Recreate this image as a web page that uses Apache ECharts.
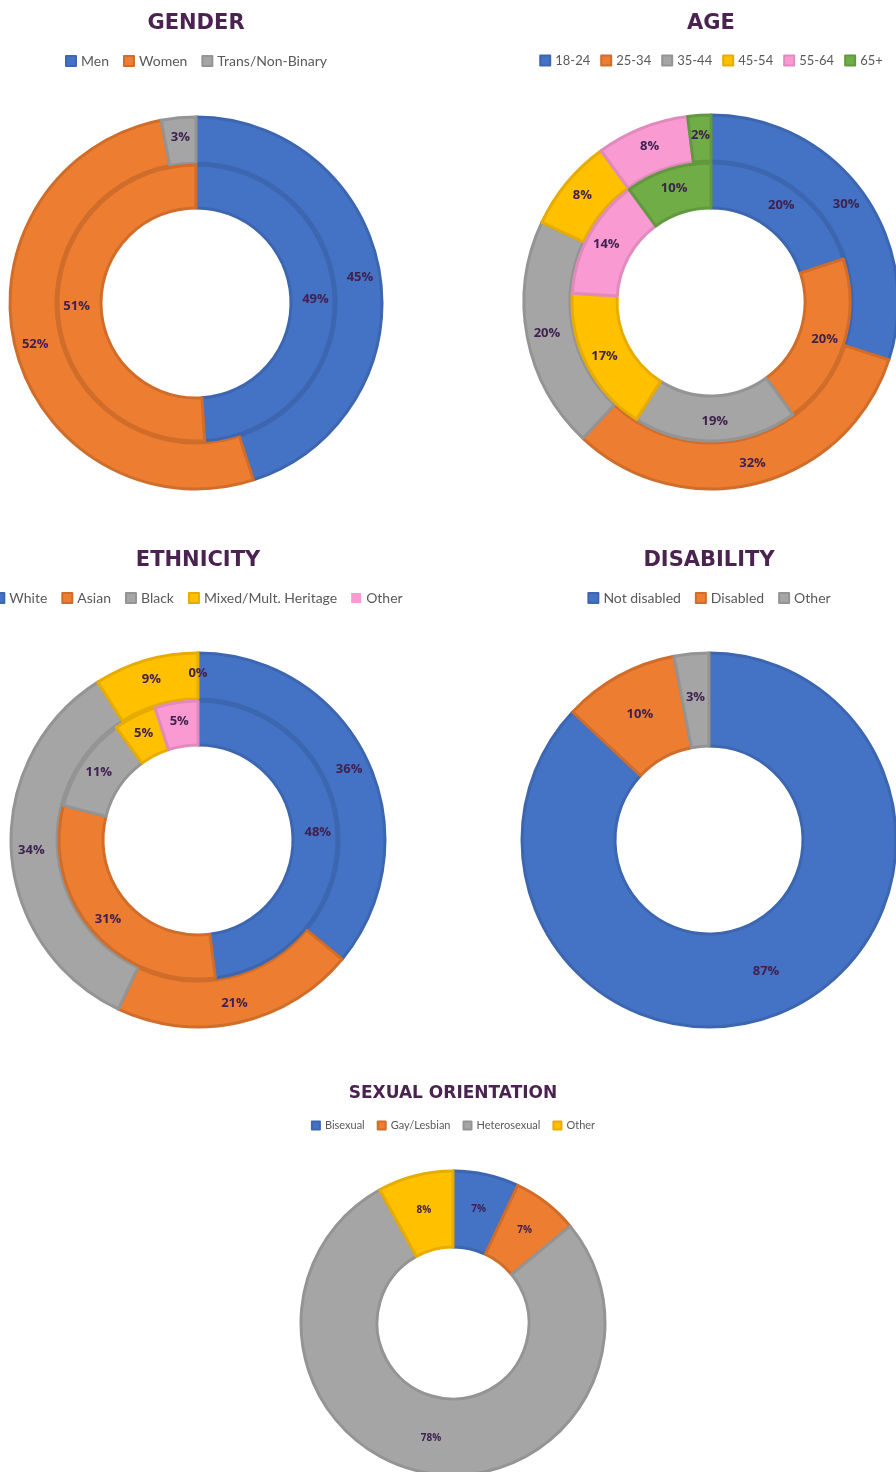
<!DOCTYPE html>
<html>
<head>
<meta charset="utf-8">
<script src="https://cdn.jsdelivr.net/npm/echarts@6/dist/echarts.min.js"></script>
<style>
  body { margin: 0; background: #fff; }
  #page { position: relative; width: 896px; height: 1472px; overflow: hidden; }
  .panel { position: absolute; width: 896px; }
</style>
</head>
<body>
<div id="page">
  <div class="panel" id="gender" style="left:-252px;top:0px;height:540px;"></div>
  <div class="panel" id="age" style="left:263px;top:0px;height:540px;"></div>
  <div class="panel" id="ethnicity" style="left:-250px;top:537px;height:538px;"></div>
  <div class="panel" id="disability" style="left:261px;top:537px;height:538px;"></div>
  <div class="panel" id="orientation" style="left:5px;top:1075px;height:397px;"></div>
</div>
<script>
// data
var genderCats = ['Men', 'Women', 'Trans/Non-Binary'];
var genderOuter = [45, 52, 3];
var genderInner = [49, 51];

var ageCats = ['18-24', '25-34', '35-44', '45-54', '55-64', '65+'];
var ageOuter = [30, 32, 20, 8, 8, 2];
var ageInner = [20, 20, 19, 17, 14, 10];

var ethCats = ['White', 'Asian', 'Black', 'Mixed/Mult. Heritage', 'Other'];
var ethOuter = [36, 21, 34, 9, 0];
var ethInner = [48, 31, 11, 5, 5];

var disCats = ['Not disabled', 'Disabled', 'Other'];
var disValues = [87, 10, 3];

var sexCats = ['Bisexual', 'Gay/Lesbian', 'Heterosexual', 'Other'];
var sexValues = [7, 7, 78, 8];

var fills = ['#4472c4', '#ed7d31', '#a5a5a5', '#ffc000', '#f99bd2', '#70ad47'];
var edges = ['#3d66b0', '#d06d2a', '#949494', '#e6ad00', '#e18bbd', '#62993e'];

var titleColor = '#4a2350';
var labelColor = '#3f2150';

function ring(cats, values, radius, cy, fontSize) {
    return {
        type: 'pie',
        radius: radius,
        center: ['50%', cy],
        startAngle: 90,
        clockwise: true,
        silent: true,
        avoidLabelOverlap: false,
        label: {
            show: true,
            position: 'inside',
            formatter: '{c}%',
            color: labelColor,
            fontFamily: 'Open Sans',
            fontWeight: 'bold',
            fontSize: fontSize
        },
        labelLine: { show: false },
        data: values.map(function (v, i) {
            return {
                name: cats[i],
                value: v,
                itemStyle: { color: fills[i], borderColor: edges[i], borderWidth: v > 0 ? 3 : 0 }
            };
        })
    };
}

function makeChart(id, title, cats, rings, cy, sizes) {
    var chart = echarts.init(document.getElementById(id), null);
    var option = {
        animation: false,
        color: fills,
        title: {
            text: title,
            left: 'center',
            top: sizes.titleTop,
            textStyle: {
                fontFamily: 'DejaVu Sans',
                fontWeight: 'bold',
                fontSize: sizes.title,
                color: titleColor
            }
        },
        legend: {
            top: sizes.legendTop,
            left: 'center',
            data: cats,
            itemWidth: sizes.icon,
            itemHeight: sizes.icon,
            itemGap: sizes.gap,
            icon: 'rect',
            textStyle: {
                fontFamily: 'Lato',
                fontSize: sizes.legend,
                color: '#595959'
            }
        },
        series: rings.map(function (r) {
            return ring(cats, r.values, r.radius, cy, sizes.label);
        })
    };
    chart.setOption(option);
    return chart;
}

var big = { title: 21, titleTop: 8, legendTop: 49, legend: 14, icon: 10, gap: 14, label: 13 };
var ageSize = { title: 21, titleTop: 8, legendTop: 49, legend: 13, icon: 10, gap: 10, label: 13 };
var small = { title: 17, titleTop: 5, legendTop: 40, legend: 11, icon: 8, gap: 12, label: 10 };

makeChart('gender', 'GENDER', genderCats, [
    { values: genderOuter, radius: [140, 186] },
    { values: genderInner, radius: [95, 138] }
], 303, big);

makeChart('age', 'AGE', ageCats, [
    { values: ageOuter, radius: [141, 187] },
    { values: ageInner, radius: [94, 139] }
], 302, ageSize);

makeChart('ethnicity', 'ETHNICITY', ethCats, [
    { values: ethOuter, radius: [141, 187] },
    { values: ethInner, radius: [95, 139] }
], 303, big);

makeChart('disability', 'DISABILITY', disCats, [
    { values: disValues, radius: [94, 187] }
], 303, big);

makeChart('orientation', 'SEXUAL ORIENTATION', sexCats, [
    { values: sexValues, radius: [76, 152] }
], 248, small);
</script>
</body>
</html>
